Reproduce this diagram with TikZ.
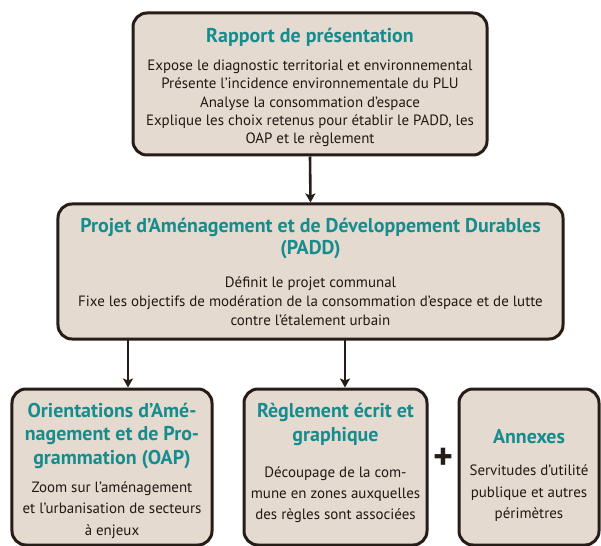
\documentclass[tikz,border=0pt]{standalone}
\usepackage{fontspec}
\setmainfont{PT Sans}
\usetikzlibrary{arrows.meta}
\definecolor{boxfill}{RGB}{229,218,207}
\definecolor{boxline}{RGB}{38,28,24}
\definecolor{teal}{RGB}{22,140,142}
\tikzset{
  panel/.style={draw=boxline, line width=3bp, fill=boxfill, rounded corners=14bp, inner sep=0pt},
  ttl/.style={text=teal, font=\bfseries\fontsize{#1}{23}\selectfont, align=center, inner sep=0pt},
  ttl/.default=20,
  body/.style={text=boxline!85!black, align=center, inner sep=0pt},
  link/.style={draw=boxline, line width=2.6bp, -{Stealth[length=9bp,width=10bp,inset=2bp]}}
}
\begin{document}
\begin{tikzpicture}[x=1bp,y=-1bp]
\useasboundingbox (0,0) rectangle (601,546);
% boxes
\node[panel, minimum width=354bp, minimum height=142bp] (rap) at (310,84) {};
\node[panel, minimum width=505bp, minimum height=135bp] (padd) at (310.5,271.5) {};
\node[panel, minimum width=200bp, minimum height=156bp] (oap) at (112,467) {};
\node[panel, minimum width=183bp, minimum height=156bp] (reg) at (335.5,467) {};
\node[panel, minimum width=140bp, minimum height=156bp] (ann) at (529,467) {};
% texts
\node[ttl=20] (rapT) at (310,37) {Rapport de présentation};
\node[body, font=\fontsize{15}{18.3}\selectfont] (rapB) at (310,103.5) {Expose le diagnostic territorial et environnemental\\Présente l’incidence environnementale du PLU\\Analyse la consommation d’espace\\Explique les choix retenus pour établir le PADD, les\\OAP et le règlement};
\node[ttl=20] (paddT) at (310.5,238.5) {Projet d’Aménagement et de Développement Durables\\(PADD)};
\node[body, font=\fontsize{15}{19}\selectfont] (paddB) at (310.5,301) {Définit le projet communal\\Fixe les objectifs de modération de la consommation d’espace et de lutte\\contre l’étalement urbain};
\node[ttl, font=\bfseries\fontsize{20}{24}\selectfont] (oapT) at (112,436) {Orientations d’Amé-\\nagement et de Pro-\\grammation (OAP)};
\node[body, font=\fontsize{15}{21.5}\selectfont] (oapB) at (112,510) {Zoom sur l’aménagement\\et l’urbanisation de secteurs\\à enjeux};
\node[ttl, font=\bfseries\fontsize{20}{24.5}\selectfont] (regT) at (335.5,424.5) {Règlement écrit et\\graphique};
\node[body, font=\fontsize{15}{21}\selectfont] (regB) at (335.5,495) {Découpage de la com-\\mune en zones auxquelles\\des règles sont associées};
\node[ttl=20] (annT) at (529,437) {Annexes};
\node[body, font=\fontsize{15}{21.5}\selectfont] (annB) at (529,493.5) {Servitudes d’utilité\\publique et autres\\périmètres};
\node[text=boxline, font=\bfseries\fontsize{38}{38}\selectfont, inner sep=0pt] (plus) at (443,459) {+};
% connectors
\coordinate (a1) at (128,339);
\coordinate (a2) at (345,339);
\draw[link] (rap.south) -- (padd.north);
\draw[link] (a1) -- (a1 |- oap.north);
\draw[link] (a2) -- (a2 |- reg.north);
\end{tikzpicture}
\end{document}
